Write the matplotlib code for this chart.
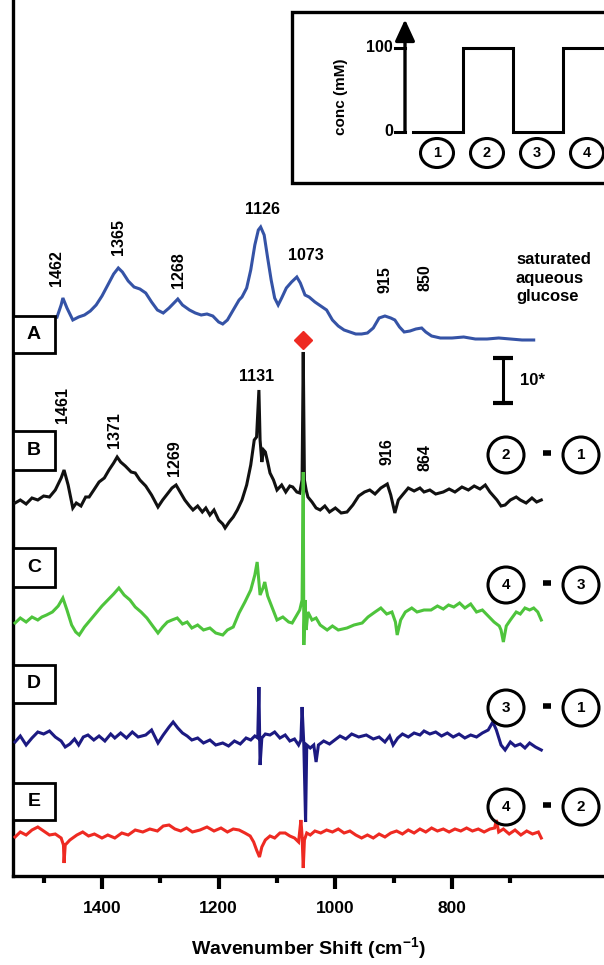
import matplotlib
matplotlib.use("Agg")
import matplotlib.pyplot as plt
from matplotlib.patches import Rectangle, Ellipse
from matplotlib.lines import Line2D

plt.rcParams['font.family'] = ['Liberation Sans', 'DejaVu Sans']
plt.rcParams['mathtext.fontset'] = 'custom'
plt.rcParams['mathtext.rm'] = 'Liberation Sans:bold'
plt.rcParams['mathtext.bf'] = 'Liberation Sans:bold'

# ---------------- data ----------------
wn_A = [1477, 1470, 1467, 1460, 1450, 1440, 1430, 1420, 1410, 1400, 1390, 1380, 1372, 1365, 1355, 1345,
        1335, 1325, 1315, 1305, 1295, 1285, 1275, 1270, 1262, 1250, 1240, 1230, 1220, 1210, 1200, 1193,
        1185, 1175, 1165, 1160, 1152, 1145, 1138, 1132, 1128, 1122, 1116, 1110, 1104, 1098, 1092, 1084,
        1075, 1066, 1060, 1052, 1045, 1035, 1025, 1015, 1005, 995, 985, 975, 965, 955, 945, 935, 925, 915,
        905, 898, 890, 882, 872, 862, 852, 845, 835, 820, 800, 780, 760, 740, 720, 700, 680, 660]
int_A = [23, 35, 42, 32, 20, 23, 25, 29, 35, 44, 55, 66, 72, 68, 59, 53,
         51, 47, 38, 30, 27, 32, 38, 41, 35, 30, 27, 25, 26, 24, 18, 16,
         20, 30, 40, 43, 52, 70, 95, 110, 113, 105, 82, 60, 42, 35, 42, 52,
         58, 63, 57, 45, 43, 38, 34, 30, 20, 14, 10, 8, 6, 6, 7, 12, 22, 24,
         22, 20, 13, 8, 9, 11, 12, 8, 4, 2, 2, 3, 1, 1, 2, 1, 0, 0]

wn_B = [1549, 1540, 1530, 1520, 1510, 1500, 1490, 1480, 1470, 1465, 1458, 1450, 1444, 1436, 1428, 1422,
        1414, 1405, 1396, 1388, 1380, 1374, 1368, 1360, 1350, 1343, 1335, 1325, 1315, 1304, 1296, 1288,
        1280, 1273, 1266, 1258, 1250, 1244, 1236, 1228, 1222, 1215, 1208, 1200, 1193, 1189, 1182, 1175,
        1168, 1160, 1152, 1145, 1139, 1135, 1131, 1129, 1126, 1123, 1120, 1116, 1112, 1106, 1100, 1092,
        1085, 1078, 1073, 1066, 1061, 1057, 1055, 1053, 1050, 1047, 1040, 1033, 1026, 1018, 1010, 1000,
        990, 980, 970, 960, 950, 941, 932, 922, 911, 905, 898, 892, 885, 875, 865, 855, 848, 838, 828,
        815, 805, 795, 783, 772, 762, 752, 743, 735, 723, 716, 709, 700, 690, 683, 673, 663, 655, 647]
int_B = [2, 5, 1, 7, 5, 9, 8, 15, 27, 35, 20, -3, 2, -1, 8, 8,
         15, 23, 27, 35, 42, 48, 43, 39, 33, 32, 25, 19, 10, -2, 5, 11,
         17, 20, 13, 5, -1, -5, -1, -7, -3, -10, -5, -15, -19, -23, -17, -12,
         -5, 5, 20, 40, 65, 68, 115, 65, 43, 55, 53, 43, 32, 25, 15, 20,
         13, 19, 18, 13, 12, 25, 153, 25, 15, 8, 3, -3, -5, -1, -7, -3,
         -8, -7, 0, 9, 13, 15, 11, 17, 21, 10, -8, 5, 10, 17, 14, 17, 13, 15, 11,
         13, 16, 13, 18, 15, 19, 16, 20, 13, 5, -1, 0, 5, 8, 5, 2, 7, 3, 5]

wn_C = [1549, 1540, 1530, 1520, 1510, 1503, 1495, 1485, 1475, 1467, 1460, 1452, 1445, 1439, 1430, 1420,
        1410, 1400, 1390, 1380, 1371, 1362, 1352, 1343, 1333, 1323, 1313, 1304, 1296, 1288, 1280, 1271,
        1262, 1254, 1246, 1236, 1226, 1215, 1205, 1193, 1185, 1175, 1165, 1155, 1145, 1138, 1134, 1129,
        1124, 1121, 1116, 1110, 1100, 1090, 1080, 1074, 1066, 1061, 1057, 1055, 1054, 1052, 1050, 1047,
        1040, 1033, 1026, 1014, 1005, 995, 980, 968, 954, 944, 932, 922, 912, 903, 897, 894, 888, 880,
        869, 860, 848, 836, 825, 815, 806, 797, 787, 778, 768, 758, 748, 738, 728, 719, 716, 712, 707,
        700, 690, 683, 675, 667, 660, 653, 647]
int_C = [0, 5, 1, 6, 3, 6, 8, 11, 17, 25, 13, -2, -9, -12, -4, 3,
         10, 17, 23, 29, 35, 28, 23, 16, 11, 5, -3, -10, -4, 1, 3, 5,
         -1, 1, -5, -2, -7, -5, -10, -12, -7, -4, 10, 21, 33, 48, 61, 28,
         35, 41, 27, 18, 3, 6, 1, 0, 8, 13, 23, 151, -22, 23, -7, 11,
         3, 5, -2, -7, -3, -7, -5, -2, 0, 6, 11, 15, 9, 11, 1, -12, 3, 11,
         15, 11, 13, 13, 17, 14, 18, 16, 20, 15, 19, 11, 13, 7, 1, -3, -7, -19, -3,
         3, 11, 9, 15, 13, 15, 11, 3]

wn_D = [1549, 1540, 1530, 1520, 1510, 1500, 1490, 1480, 1470, 1463, 1455, 1447, 1440, 1432, 1424, 1414,
        1405, 1395, 1385, 1378, 1368, 1358, 1348, 1338, 1325, 1315, 1304, 1295, 1285, 1278, 1270, 1262,
        1254, 1246, 1236, 1226, 1215, 1205, 1193, 1183, 1173, 1163, 1153, 1145, 1138, 1133, 1131, 1129,
        1126, 1120, 1112, 1104, 1095, 1086, 1078, 1070, 1063, 1059, 1057, 1054, 1051, 1049, 1043, 1037,
        1033, 1029, 1020, 1010, 1001, 992, 982, 972, 960, 947, 935, 925, 915, 907, 901, 893, 885, 875,
        865, 855, 848, 838, 828, 818, 808, 798, 788, 778, 768, 758, 748, 738, 730, 724, 716, 709, 700,
        692, 683, 675, 667, 657, 647]
int_D = [0, 6, -3, 4, 10, 8, 11, 5, 1, -5, -2, 3, -3, 5, 7, 2,
         6, 1, 8, 4, 9, 4, 10, 5, 7, 12, -1, 7, 15, 20, 14, 9,
         6, 2, 4, -1, 2, -3, -1, -4, 1, -2, 4, 2, 6, 4, 55, -23,
         4, 8, 7, 10, 4, 7, 1, 3, -3, 2, 35, -3, -80, -3, -6, -3,
         -20, -3, 1, -2, 2, 6, 3, 8, 5, 7, 3, 5, 0, 6, -3, 4, 8, 5,
         9, 7, 11, 8, 10, 6, 9, 5, 8, 4, 7, 5, 9, 12, 20, 12, -3, -8, 0,
         -4, -2, -6, -1, -5, -8]

wn_E = [1549, 1540, 1530, 1520, 1510, 1500, 1490, 1480, 1470, 1466, 1465, 1463, 1455, 1443, 1433, 1423,
        1413, 1400, 1390, 1378, 1366, 1355, 1343, 1330, 1318, 1305, 1295, 1285, 1275, 1265, 1255, 1245,
        1232, 1220, 1208, 1196, 1185, 1175, 1165, 1155, 1146, 1140, 1135, 1130, 1126, 1120, 1112, 1104,
        1095, 1086, 1078, 1070, 1063, 1059, 1057, 1055, 1053, 1049, 1043, 1035, 1025, 1015, 1005, 995,
        985, 975, 965, 955, 945, 935, 925, 915, 905, 895, 885, 875, 865, 855, 845, 835, 825, 815, 805,
        795, 785, 775, 765, 755, 745, 735, 727, 724, 720, 712, 702, 692, 682, 672, 662, 652, 647]
int_E = [0, 5, 2, 7, 10, 6, 2, 3, -1, -8, -26, -8, -3, 2, 5, 1,
         3, -1, 2, -1, 4, 2, 7, 5, 8, 6, 11, 12, 8, 6, 9, 5,
         7, 10, 6, 9, 5, 8, 7, 4, 1, -5, -13, -20, -10, -3, 1, -1,
         4, 4, 1, -1, -5, 17, 1, -31, -3, 4, 2, 6, 4, 7, 5, 8,
         4, 6, 2, -1, 2, -1, 3, 0, 4, 6, 3, 7, 4, 8, 5, 9, 6, 8, 5,
         8, 6, 9, 6, 8, 5, 8, 9, 17, 5, 8, 3, 7, 2, 6, 3, 5, -1]

trace_names = ['A', 'B', 'C', 'D', 'E']
trace_offsets = [536, 371, 253, 134, 39]
trace_colors = ['#3553a6', '#111111', '#4ec43c', '#1c1a82', '#ee2a22']

peaks_A = [1462, 1365, 1268, 1126, 1073, 915, 850]
peaks_B = [1461, 1371, 1269, 1131, 916, 864]

conc_stages = ['1', '2', '3', '4']
conc_values = [0, 100, 0, 100]
conc_ticks = [0, 100]

diff_pairs = [('2', '1'), ('4', '3'), ('3', '1'), ('4', '2')]

x_major = [1400, 1200, 1000, 800]
x_minor = [1500, 1300, 1100, 900, 700]

# ---------------- figure ----------------
W, H = 604, 965
fig = plt.figure(figsize=(W / 100, H / 100), dpi=100)


def fx(px):
    return px / W


def fy(py):
    return 1 - py / H


ax = fig.add_axes([fx(13), fy(876), fx(604) - fx(13), 876 / H])
ax.set_xlim(1552.5, 539.5)
ax.set_ylim(0, 876)
ax.patch.set_alpha(0)
for s in ['top', 'right']:
    ax.spines[s].set_visible(False)
ax.spines['left'].set_linewidth(2.4)
ax.spines['bottom'].set_linewidth(2.4)
ax.set_yticks([])
ax.set_xticks(x_major)
ax.set_xticks(x_minor, minor=True)
ax.set_xticklabels([str(v) for v in x_major], fontsize=12.5, fontweight='bold')
ax.tick_params(axis='x', which='major', length=9, width=3, direction='out', pad=9)
ax.tick_params(axis='x', which='minor', length=5, width=3, direction='out')
ax.set_xlabel(r'Wavenumber Shift (cm$^{\mathbf{-1}}$)', fontsize=14, fontweight='bold', labelpad=14)

wns = [wn_A, wn_B, wn_C, wn_D, wn_E]
ints = [int_A, int_B, int_C, int_D, int_E]
for i in range(5):
    ax.plot(wns[i], [v + trace_offsets[i] for v in ints[i]], color=trace_colors[i],
            lw=2.2, solid_joinstyle='miter', zorder=3 + i)

# red diamond marker above the spike
ax.plot([1055], [536], marker='D', color='#ee2a22', markersize=9, zorder=10)

# scale bar (10*)
sb_x = 712
sb_y0, sb_y1 = 473, 518
ax.plot([sb_x, sb_x], [sb_y0, sb_y1], color='black', lw=2.2)
ax.plot([sb_x, sb_x], [sb_y0, sb_y1], ls='none', marker='_', markersize=15, mew=3, color='black')
fig.text(fx(520), fy(380), '10*', fontsize=12, fontweight='bold', ha='left', va='center')

# peak labels
txt = dict(fontsize=11.5, fontweight='bold', color='black')
lab_A = {1462: (57, 268, 90), 1365: (118, 237, 90), 1268: (178, 270, 90), 1126: (262, 209, 0),
         1073: (306, 255, 0), 915: (385, 280, 90), 850: (425, 278, 90)}
for p in peaks_A:
    x, y, r = lab_A[p]
    fig.text(fx(x), fy(y), str(p), rotation=r, ha='center', va='center', **txt)
lab_B = {1461: (63, 405, 90), 1371: (115, 430, 90), 1269: (175, 458, 90), 1131: (257, 377, 0),
         916: (387, 452, 90), 864: (425, 458, 90)}
for p in peaks_B:
    x, y, r = lab_B[p]
    fig.text(fx(x), fy(y), str(p), rotation=r, ha='center', va='center', **txt)

fig.text(fx(516), fy(278), 'saturated\naqueous\nglucose', fontsize=12, fontweight='bold',
         ha='left', va='center', linespacing=1.3)

# letter boxes
boxes = [(316, 353), (431, 470), (548, 587), (665, 703), (783, 820)]
for name, (y0, y1) in zip(trace_names, boxes):
    fig.patches.append(Rectangle((fx(13), fy(y1)), fx(55) - fx(13), fy(y0) - fy(y1),
                                 transform=fig.transFigure, fill=True, facecolor='white',
                                 edgecolor='black', lw=2, zorder=20))
    fig.text(fx(34), fy((y0 + y1) / 2), name, fontsize=14, fontweight='bold',
             ha='center', va='center', zorder=21)


def circled(xc, yc, label, w=36, h=36, fs=11):
    fig.patches.append(Ellipse((fx(xc), fy(yc)), w / W, h / H, transform=fig.transFigure,
                               fill=False, edgecolor='black', lw=2.2, zorder=20))
    fig.text(fx(xc), fy(yc), label, fontsize=fs, fontweight='bold', ha='center', va='center', zorder=21)


# difference annotations
diff_y = [455, 585, 708, 807]
for (a, b), yy in zip(diff_pairs, diff_y):
    circled(506, yy, a)
    circled(581, yy, b)
    fig.lines.append(Line2D([fx(543), fx(551)], [fy(yy - 2), fy(yy - 2)], transform=fig.transFigure,
                            color='black', lw=4, solid_capstyle='butt'))

# ---------------- inset ----------------
fig.patches.append(Rectangle((fx(292), fy(183)), fx(640) - fx(292), fy(12) - fy(183),
                             transform=fig.transFigure, fill=True, facecolor='white',
                             edgecolor='black', lw=2.4, zorder=15))

px_per_stage = 50.0
stage0_px = 413
ix0, ix1 = 405, 604
iy_top, iy_bot = 15, 172
conc_px = 0.84
ins = fig.add_axes([fx(ix0), fy(iy_bot), fx(ix1) - fx(ix0), fy(iy_top) - fy(iy_bot)], zorder=16)
ins.set_xlim((ix0 - stage0_px) / px_per_stage, (ix1 - stage0_px) / px_per_stage)
ins.set_ylim((132 - iy_bot) / conc_px, (132 - iy_top) / conc_px)
ins.axis('off')
ins.patch.set_alpha(0)

sx, sy = [], []
for k, v in enumerate(conc_values):
    sx += [k, k + 1]
    sy += [v, v]
ins.plot(sx, sy, color='black', lw=2.2, solid_joinstyle='miter', clip_on=False)
ins.annotate('', xy=(0 - 8 / px_per_stage, 134), xytext=(0 - 8 / px_per_stage, 0),
             arrowprops=dict(arrowstyle='-|>,head_length=1.3,head_width=0.6', color='black', lw=2.4,
                             shrinkA=0, shrinkB=0), annotation_clip=False)
for t in conc_ticks:
    ins.plot([-18 / px_per_stage, -8 / px_per_stage], [t, t], color='black', lw=2.2, clip_on=False)
    ins.text(-20 / px_per_stage, t, str(t), fontsize=11.5, fontweight='bold', ha='right', va='center',
             clip_on=False)
ins.text(-72 / px_per_stage, 42, 'conc (mM)', rotation=90, fontsize=11, fontweight='bold',
         ha='center', va='center', clip_on=False)

for k, lab in enumerate(conc_stages):
    xc = stage0_px + (k + 0.5) * px_per_stage
    circled(xc - 1, 153, lab, w=33, h=29, fs=10.5)

fig.savefig('out.png', dpi=100)
